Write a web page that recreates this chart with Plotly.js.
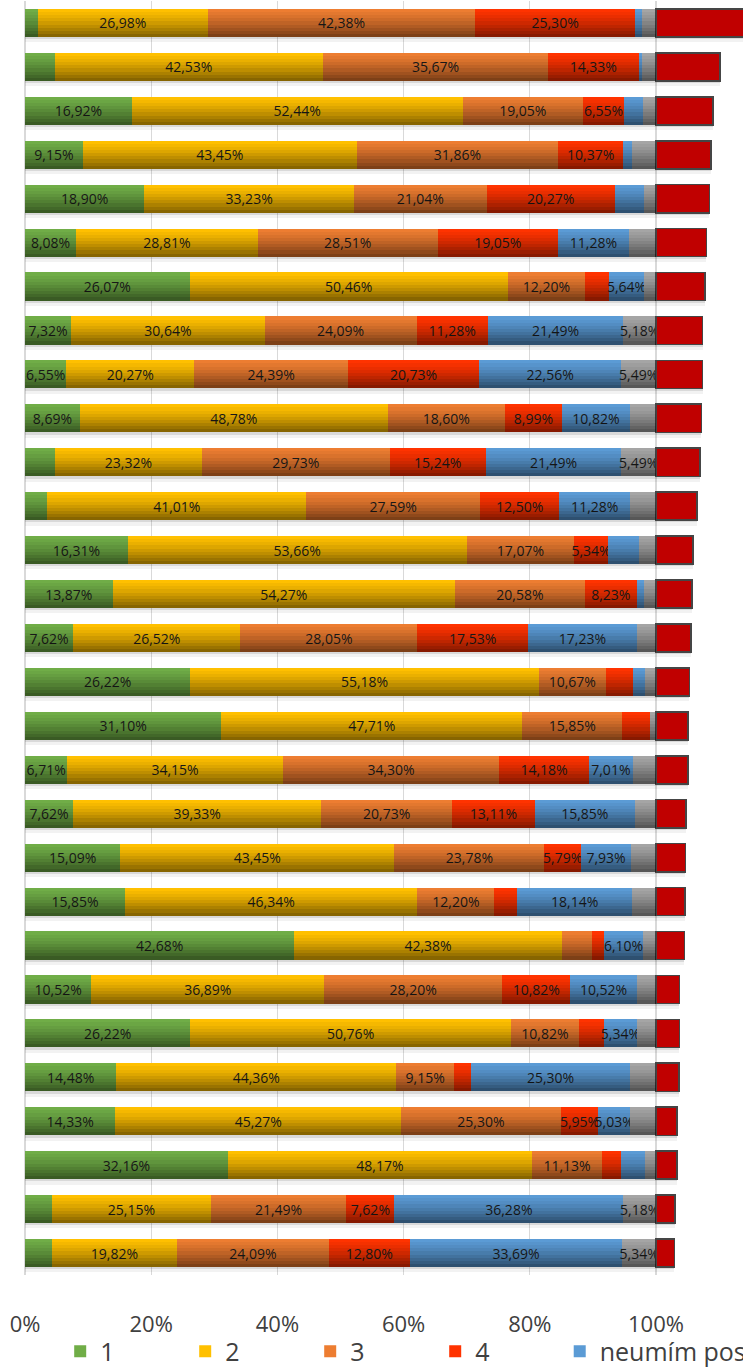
<!DOCTYPE html>
<html>
<head>
<meta charset="utf-8">
<script src="https://cdn.plot.ly/plotly-3.0.1.min.js"></script>
<style>
html,body{margin:0;padding:0;overflow:hidden;background:#ffffff;width:743px;height:1370px;}
#chart{width:1400px;height:1370px;}
</style>
</head>
<body>
<div id="chart"></div>
<script>
// Row identifiers (top to bottom); their labels are outside the visible crop
const categories = ['Q1','Q2','Q3','Q4','Q5','Q6','Q7','Q8','Q9','Q10','Q11','Q12','Q13','Q14','Q15',
  'Q16','Q17','Q18','Q19','Q20','Q21','Q22','Q23','Q24','Q25','Q26','Q27','Q28','Q29'];

const seriesNames = ['1', '2', '3', '4', 'neumím posoudit', 'bez odpovědi', 'ostatní'];

const s1 = [2.00, 4.70, 16.92, 9.15, 18.90, 8.08, 26.07, 7.32, 6.55, 8.69, 4.73, 3.55, 16.31, 13.87, 7.62,
  26.22, 31.10, 6.71, 7.62, 15.09, 15.85, 42.68, 10.52, 26.22, 14.48, 14.33, 32.16, 4.28, 4.26];
const s2 = [26.98, 42.53, 52.44, 43.45, 33.23, 28.81, 50.46, 30.64, 20.27, 48.78, 23.32, 41.01, 53.66, 54.27, 26.52,
  55.18, 47.71, 34.15, 39.33, 43.45, 46.34, 42.38, 36.89, 50.76, 44.36, 45.27, 48.17, 25.15, 19.82];
const s3 = [42.38, 35.67, 19.05, 31.86, 21.04, 28.51, 12.20, 24.09, 24.39, 18.60, 29.73, 27.59, 17.07, 20.58, 28.05,
  10.67, 15.85, 34.30, 20.73, 23.78, 12.20, 4.79, 28.20, 10.82, 9.15, 25.30, 11.13, 21.49, 24.09];
const s4 = [25.30, 14.33, 6.55, 10.37, 20.27, 19.05, 3.78, 11.28, 20.73, 8.99, 15.24, 12.50, 5.34, 8.23, 17.53,
  4.28, 4.35, 14.18, 13.11, 5.79, 3.65, 1.95, 10.82, 3.90, 2.65, 5.95, 3.00, 7.62, 12.80];
const s5 = [1.10, 0.60, 2.95, 1.37, 4.65, 11.28, 5.64, 21.49, 22.56, 10.82, 21.49, 11.28, 4.90, 1.10, 17.23,
  1.90, 0.00, 7.01, 15.85, 7.93, 18.14, 6.10, 10.52, 5.34, 25.30, 5.03, 3.79, 36.28, 33.69];
const s6 = [2.24, 2.17, 2.09, 3.80, 1.91, 4.27, 1.85, 5.18, 5.49, 4.12, 5.49, 4.07, 2.72, 1.95, 3.05,
  1.75, 0.99, 3.65, 3.36, 3.96, 3.82, 2.10, 3.05, 2.96, 4.06, 4.12, 1.75, 5.18, 5.34];
const s7 = [14.6, 10.1, 9.0, 8.7, 8.45, 8.0, 7.8, 7.4, 7.4, 7.2, 7.0, 6.45, 5.9, 5.7, 5.55,
  5.3, 5.1, 5.1, 4.75, 4.65, 4.6, 4.5, 3.7, 3.7, 3.65, 3.3, 3.3, 3.0, 2.9];

const tickValues = [0, 20, 40, 60, 80, 100];
const tickLabels = ['0%', '20%', '40%', '60%', '80%', '100%'];

// ---- styling ----
const colors = ['#70AD47', '#FFC000', '#ED7D31', '#FF3300', '#5B9BD5', '#A5A5A5', '#C00000'];
const legendOf = ['legend', 'legend', 'legend', 'legend', 'legend3', 'legend2', 'legend2'];
const BAR_W = 0.64;
const FONT = 'Open Sans, Noto Sans, sans-serif';
const allSeries = [s1, s2, s3, s4, s5, s6, s7];

function fmt(v) { return v >= 5 ? v.toFixed(2).replace('.', ',') + '%' : ''; }

const traces = [];

// soft drop shadow under each full bar (computed from the data)
const fullTotals = categories.map((c, i) => allSeries.reduce((a, s) => a + s[i], 0));
[[0.12, 'rgba(0,0,0,0.05)'], [0.05, 'rgba(0,0,0,0.10)']].forEach(([shift, col]) => {
  traces.push({
    type: 'bar', orientation: 'h', y: categories, x: fullTotals, base: 0,
    width: BAR_W, offset: -BAR_W / 2 + shift,
    marker: { color: col, line: { width: 0 } },
    showlegend: false, hoverinfo: 'skip'
  });
});

allSeries.forEach((s, k) => {
  const isLast = k === 6;
  traces.push({
    type: 'bar', orientation: 'h', name: seriesNames[k], y: categories, x: s,
    width: BAR_W,
    legend: legendOf[k],
    marker: { color: colors[k], line: isLast ? { color: '#454545', width: 1.6 } : { width: 0 } },
    text: isLast ? s.map(() => '') : s.map(fmt),
    textposition: 'inside', insidetextanchor: 'middle', textangle: 0, constraintext: 'none',
    insidetextfont: { family: FONT, size: 14, color: '#1e1e1e' },
    hoverinfo: 'name+x'
  });
});

// gradient shading (light top -> darker bottom) over the 100 % part of each bar,
// built from overlapping translucent layers that all end at the bar's bottom edge
const mainTotals = categories.map((c, i) => s1[i] + s2[i] + s3[i] + s4[i] + s5[i] + s6[i]);
const NB = 9;
let prevD = 0;
for (let b = 1; b < NB; b++) {
  const t = (b + 0.5) / NB;
  const D = 0.5 * Math.pow(t, 1.4);
  const a = 1 - (1 - D) / (1 - prevD);
  prevD = D;
  traces.push({
    type: 'bar', orientation: 'h', y: categories, x: mainTotals, base: 0,
    width: BAR_W * (1 - b / NB), offset: -BAR_W / 2 + b * BAR_W / NB,
    marker: { color: 'rgba(0,0,0,' + a.toFixed(4) + ')', line: { width: 0 } },
    showlegend: false, hoverinfo: 'skip'
  });
}

const legendBase = {
  orientation: 'h', xref: 'container', yref: 'container',
  xanchor: 'left', y: 0.0135, yanchor: 'middle',
  entrywidth: 80, entrywidthmode: 'pixels',
  font: { family: FONT, size: 25, color: '#404040' },
  bgcolor: 'rgba(0,0,0,0)', traceorder: 'normal'
};

const layout = {
  width: 1400, height: 1370,
  margin: { l: 25, r: 113, t: 1, b: 95, pad: 0 },
  paper_bgcolor: '#ffffff', plot_bgcolor: '#ffffff',
  barmode: 'stack',
  font: { family: FONT, color: '#404040' },
  xaxis: {
    range: [0, 200], tickvals: tickValues, ticktext: tickLabels,
    showgrid: true, gridcolor: '#d9d9d9', gridwidth: 1.2,
    zeroline: true, zerolinecolor: '#d9d9d9', zerolinewidth: 1.2,
    showline: false, ticks: '', ticklabelstandoff: 34,
    tickfont: { family: FONT, size: 22, color: '#404040' },
    fixedrange: true
  },
  yaxis: {
    type: 'category', categoryorder: 'array', categoryarray: categories,
    autorange: 'reversed', showticklabels: false, showgrid: false, zeroline: false,
    showline: false, ticks: '', fixedrange: true
  },
  showlegend: true,
  legend: Object.assign({}, legendBase, { x: 0.043 }),
  legend3: Object.assign({}, legendBase, { x: 0.3998, entrywidth: 0 }),
  legend2: Object.assign({}, legendBase, { x: 0.6, entrywidth: 180 })
};

Plotly.newPlot('chart', traces, layout, { displayModeBar: false, staticPlot: true });
</script>
</body>
</html>
